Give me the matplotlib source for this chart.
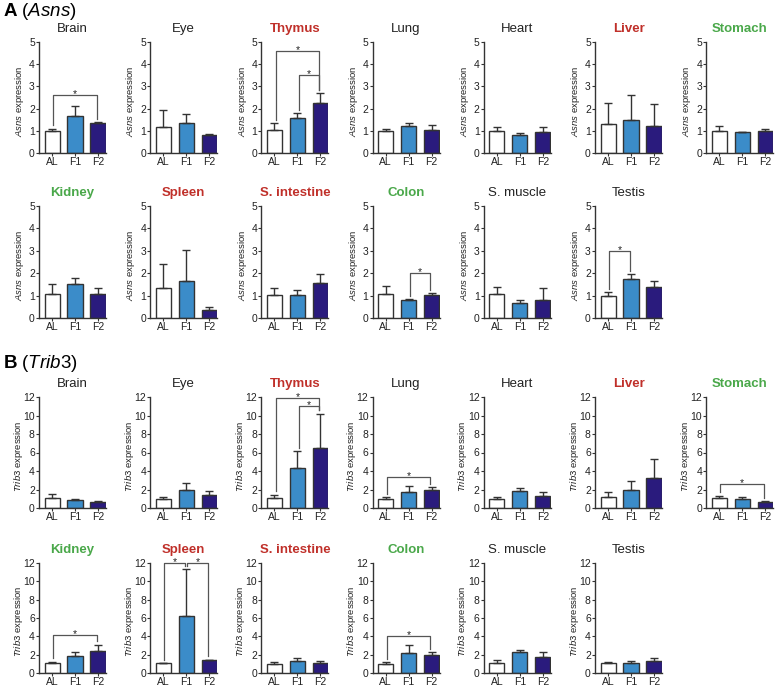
import matplotlib
matplotlib.use("Agg")
import matplotlib.pyplot as plt

plt.rcParams["font.family"] = ["Liberation Sans", "DejaVu Sans"]
plt.rcParams["mathtext.fontset"] = "custom"
plt.rcParams["mathtext.rm"] = "Liberation Sans"
plt.rcParams["mathtext.it"] = "Liberation Sans:italic"
plt.rcParams["mathtext.bf"] = "Liberation Sans:bold"

groups = ["AL", "F1", "F2"]
tissues = ["Brain", "Eye", "Thymus", "Lung", "Heart", "Liver", "Stomach",
           "Kidney", "Spleen", "S. intestine", "Colon", "S. muscle", "Testis"]
# 'k' normal, 'r' red bold, 'g' green bold
tissue_marks = ["k", "k", "r", "k", "k", "r", "g",
                "g", "r", "r", "g", "k", "k"]

# Asns expression: means and upper error (SEM)
asns_mean = [[1.00, 1.67, 1.33], [1.17, 1.33, 0.83], [1.05, 1.58, 2.25],
             [1.00, 1.20, 1.05], [1.00, 0.80, 0.93], [1.30, 1.48, 1.22],
             [1.00, 0.93, 0.97], [1.07, 1.50, 1.07], [1.35, 1.67, 0.35],
             [1.03, 1.03, 1.55], [1.05, 0.80, 1.03], [1.05, 0.65, 0.80],
             [1.00, 1.75, 1.40]]
asns_sem = [[0.10, 0.43, 0.07], [0.78, 0.42, 0.02], [0.30, 0.20, 0.45],
            [0.10, 0.15, 0.20], [0.15, 0.08, 0.22], [0.95, 1.14, 0.98],
            [0.20, 0.02, 0.11], [0.43, 0.28, 0.28], [1.05, 1.38, 0.15],
            [0.32, 0.24, 0.42], [0.38, 0.05, 0.07], [0.33, 0.15, 0.55],
            [0.15, 0.22, 0.25]]
# significance brackets: (tissue index, group i, group j, height)
asns_sig = [(0, 0, 2, 2.6), (2, 0, 2, 4.6), (2, 1, 2, 3.5),
            (10, 1, 2, 2.0), (12, 0, 1, 3.0)]

# Trib3 expression
trib3_mean = [[1.05, 0.87, 0.60], [1.00, 1.95, 1.40], [1.05, 4.35, 6.45],
              [1.00, 1.75, 1.90], [1.00, 1.80, 1.25], [1.15, 2.00, 3.20],
              [1.05, 0.95, 0.70], [1.05, 1.85, 2.45], [1.05, 6.25, 1.40],
              [1.00, 1.35, 1.10], [1.00, 2.20, 1.95], [1.05, 2.25, 1.75],
              [1.05, 1.05, 1.35]]
trib3_sem = [[0.45, 0.05, 0.20], [0.20, 0.80, 0.45], [0.40, 1.80, 3.75],
             [0.15, 0.60, 0.35], [0.15, 0.40, 0.45], [0.60, 0.90, 2.15],
             [0.30, 0.20, 0.05], [0.20, 0.40, 0.65], [0.05, 5.05, 0.05],
             [0.25, 0.25, 0.25], [0.20, 0.90, 0.35], [0.40, 0.25, 0.55],
             [0.20, 0.25, 0.30]]
trib3_sig = [(2, 0, 2, 11.9), (2, 1, 2, 11.0), (3, 0, 2, 3.35),
             (6, 0, 2, 2.55), (7, 0, 2, 4.1), (8, 0, 1, 12.0),
             (8, 1, 2, 12.0), (10, 0, 2, 4.0)]

bar_colors = ["white", "#3b8cc9", "#2a1b7d"]
mark_colors = {"k": "#222222", "r": "#c0302a", "g": "#4aa84a"}
edge = "#333333"

fig = plt.figure(figsize=(7.78, 6.87), dpi=100)
W, H = 778, 687
col_left = [39 + 111.2 * i for i in range(7)]
ax_w = 67
# (top, bottom) in pixels for each row
row_px = [(42, 153), (206, 318), (397, 508), (563, 673)]


def draw_panel(ax, means, sems, sigs, ymax, step, gene, lab_x):
    x = range(3)
    ax.bar(x, means, width=0.66, color=bar_colors, edgecolor=edge,
           linewidth=1.0, zorder=2)
    ax.errorbar(x, means, yerr=[[0, 0, 0], sems], fmt="none", ecolor=edge,
                elinewidth=1.0, capsize=3, capthick=1.0, zorder=3)
    ax.set_xlim(-0.57, 2.35)
    ax.set_ylim(0, ymax)
    ax.set_yticks(range(0, ymax + 1, step))
    ax.set_xticks(list(x))
    ax.set_xticklabels(groups)
    for s in ["top", "right"]:
        ax.spines[s].set_visible(False)
    for s in ["left", "bottom"]:
        ax.spines[s].set_color(edge)
        ax.spines[s].set_linewidth(1.0)
    ax.tick_params(axis="both", labelsize=7.5, length=2, width=0.8,
                   color=edge, pad=1, labelcolor="#222222")
    ax.set_ylabel(r"$\it{%s}$ expression" % gene, fontsize=6.8, color="#222222")
    ax.yaxis.set_label_coords(lab_x, 0.47)
    gap = ymax * 0.03
    tops = [m + s for m, s in zip(means, sems)]
    for i, j, h in sigs:
        xi, xj = i + 0.05, j - 0.05
        ax.plot([xi, xi, xj, xj], [tops[i] + gap, h, h, tops[j] + gap],
                color="#555555", lw=0.9, clip_on=False, zorder=4)
        ax.annotate("*", ((i + j) / 2, h), xytext=(0, -1.5),
                    textcoords="offset points", ha="center", va="baseline",
                    fontsize=7.5, color="#222222", annotation_clip=False)


def make_axes(idx, block):
    r = idx // 7
    c = idx % 7
    top, bot = row_px[block * 2 + r]
    return fig.add_axes([col_left[c] / W, 1 - bot / H, ax_w / W, (bot - top) / H])


for k, name in enumerate(tissues):
    for block, (means, sems, sig, ymax, step, gene, lab_x) in enumerate([
            (asns_mean, asns_sem, asns_sig, 5, 1, "Asns", -0.19),
            (trib3_mean, trib3_sem, trib3_sig, 12, 2, "Trib3", -0.215)]):
        ax = make_axes(k, block)
        draw_panel(ax, means[k], sems[k], [(i, j, h) for t, i, j, h in sig if t == k],
                   ymax, step, gene, lab_x)
        mk = tissue_marks[k]
        ax.set_title(name, fontsize=9.5, color=mark_colors[mk],
                     fontweight="normal" if mk == "k" else "bold", pad=7)

fig.text(3 / W, 1 - 11 / H, r"$\bf{A}$ ($\it{Asns}$)", fontsize=13.5, va="center")
fig.text(3 / W, 1 - 363 / H, r"$\bf{B}$ ($\it{Trib3}$)", fontsize=13.5, va="center")

fig.savefig("out.png", dpi=100)
